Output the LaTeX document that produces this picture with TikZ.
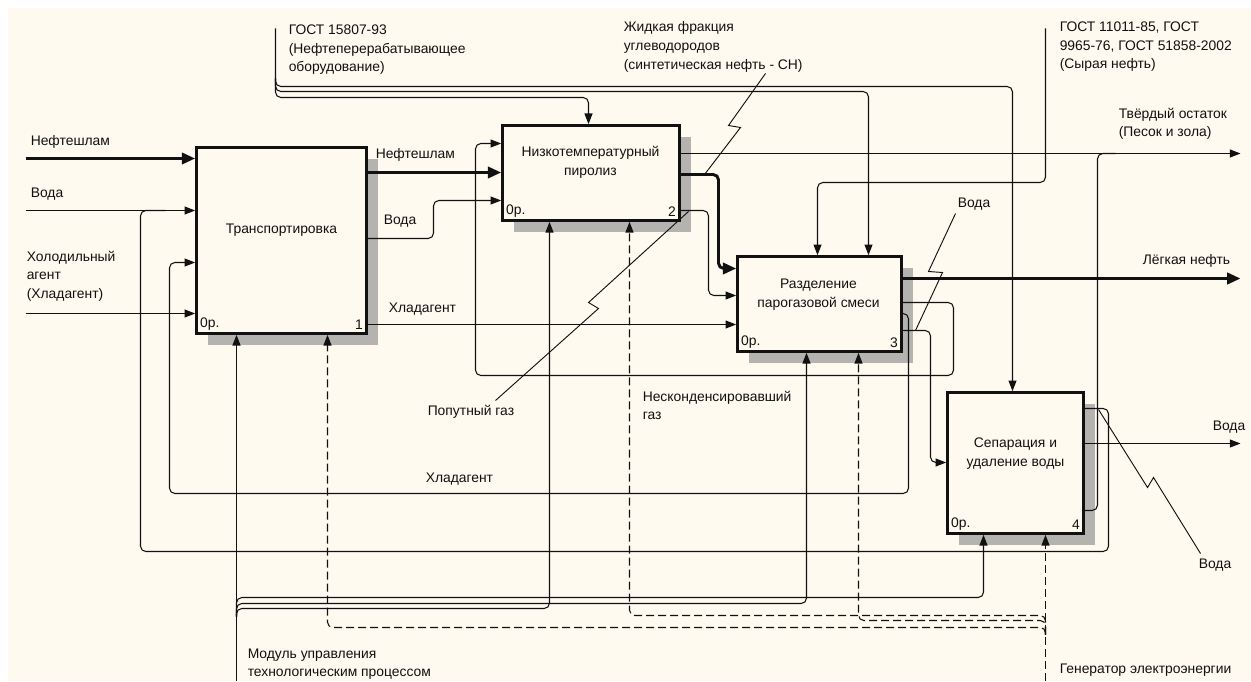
\documentclass[tikz,border=0pt]{standalone}
\usepackage{fontspec}
\setmainfont{Liberation Sans}
\usetikzlibrary{arrows.meta,shadows}
\definecolor{Paper}{HTML}{FFFAEF}
\definecolor{Ink}{HTML}{111111}
\definecolor{Hatch}{HTML}{B4B3AF}
\tikzset{
  funcbox/.style={draw=Ink,line width=2pt,fill=Paper,inner sep=0pt,general shadow={shadow xshift=8.5pt,shadow yshift=-8.5pt,fill=Hatch}},
  boxtext/.style={align=center,font=\fontsize{10.4}{14}\selectfont,text=Ink,inner sep=0pt},
  corner/.style={font=\fontsize{10.4}{12}\selectfont,text=Ink,inner sep=3.5pt},
  lbl/.style={anchor=north west,align=left,font=\fontsize{10.4}{14}\selectfont,text=Ink,inner sep=0pt},
  joinline/.style={draw=Ink,line width=0.8pt,rounded corners=4pt},
  flow/.style={joinline,-{Triangle[length=8pt,width=6pt]}},
  heavy/.style={-{Triangle[length=10pt,width=8.5pt]},draw=Ink,line width=2.2pt,rounded corners=4pt},
  power/.style={flow,dash pattern=on 6pt off 3pt},
  bolt/.style={draw=Ink,line width=0.7pt}
}

\begin{document}
\begin{tikzpicture}[x=0.75pt,y=-0.75pt]
  \useasboundingbox (0,0) rectangle (1251,681);
  \fill[white] (0,0) rectangle (1251,681);
  \fill[Paper] (8,8) rectangle (1251,681);

  \begin{scope}[shift={(0.5,0.5)}]
  % function boxes
  \node[funcbox,minimum width=127.5pt,minimum height=139.5pt] (b1) at (281,240) {};
  \node[funcbox,minimum width=132.75pt,minimum height=71.25pt] (b2) at (590.5,172.5) {};
  \node[funcbox,minimum width=123pt,minimum height=71.25pt] (b3) at (819,303.5) {};
  \node[funcbox,minimum width=102pt,minimum height=105.75pt] (b4) at (1015,462.5) {};

  \node[boxtext] (b1t) at (281,230) {Транспортировка};
  \node[boxtext] (b2t) at (590,162) {Низкотемпературный\\пиролиз};
  \node[boxtext] (b3t) at (818,294) {Разделение\\парогазовой смеси};
  \node[boxtext] (b4t) at (1015,453) {Сепарация и\\удаление воды};

  \node[corner,anchor=south west] (b1p) at (b1.south west) {0р.};
  \node[corner,anchor=south east] (b1n) at (b1.south east) {1};
  \node[corner,anchor=south west] (b2p) at (b2.south west) {0р.};
  \node[corner,anchor=south east] (b2n) at (b2.south east) {2};
  \node[corner,anchor=south west] (b3p) at (b3.south west) {0р.};
  \node[corner,anchor=south east] (b3n) at (b3.south east) {3};
  \node[corner,anchor=south west] (b4p) at (b4.south west) {0р.};
  \node[corner,anchor=south east] (b4n) at (b4.south east) {4};

  % free ends and splits
  \coordinate (inSlurry) at (25,158);
  \coordinate (inWater) at (25,210);
  \coordinate (inCool) at (25,313);
  \coordinate (gostA) at (275,28);
  \coordinate (gostSplit) at (275,78);
  \coordinate (gostB) at (1045,28);
  \coordinate (outSolid) at (1240,153);
  \coordinate (outOil) at (1240,278);
  \coordinate (outWater) at (1240,443);
  \coordinate (mechCtl) at (236,680);
  \coordinate (ctlSplit) at (236,616);
  \coordinate (mechGen) at (1045,680);
  \coordinate (genSplit) at (1045,634);

  % labels
  \node[lbl] (tGostA) at (288,24) {ГОСТ 15807-93\\(Нефтеперерабатывающее\\оборудование)};
  \node[lbl] (tLiquid) at (623,21) {Жидкая фракция\\углеводородов\\(синтетическая нефть - СН)};
  \node[lbl] (tGostB) at (1059,21) {ГОСТ 11011-85, ГОСТ\\9965-76, ГОСТ 51858-2002\\(Сырая нефть)};
  \node[lbl] (tSolid) at (1118,107) {Твёрдый остаток\\(Песок и зола)};
  \node[lbl] (tSlurryIn) at (30,135) {Нефтешлам};
  \node[lbl] (tWaterIn) at (30,187) {Вода};
  \node[lbl] (tCoolIn) at (26,250) {Холодильный\\агент\\(Хладагент)};
  \node[lbl] (tSlurry) at (375,148) {Нефтешлам};
  \node[lbl] (tWater) at (383,214) {Вода};
  \node[lbl] (tCool) at (388,302) {Хладагент};
  \node[lbl] (tCoolBack) at (425,472) {Хладагент};
  \node[lbl] (tGas) at (427,404) {Попутный газ};
  \node[lbl] (tNoncond) at (642,390) {Несконденсировавший\\газ};
  \node[lbl] (tWater3) at (957,197) {Вода};
  \node[lbl] (tOil) at (1142,254) {Лёгкая нефть};
  \node[lbl] (tWaterOut) at (1212,420) {Вода};
  \node[lbl] (tWater4) at (1198,558) {Вода};
  \node[lbl] (tCtl) at (247,648) {Модуль управления\\технологическим процессом};
  \node[lbl] (tGen) at (1059,663) {Генератор электроэнергии};

  % inputs
  \draw[heavy] (inSlurry) -- (b1.west |- inSlurry);
  \draw[flow] (inWater) -- (b1.west |- inWater);
  \draw[flow] (inCool) -- (b1.west |- inCool);

  % controls
  \draw[flow] (gostA) |- (1012,86) -- (b4.north -| 1012,0);
  \draw[flow] (gostSplit) |- (868,91) -- (b3.north -| 868,0);
  \draw[flow] (gostSplit) |- (588,97) -- (b2.north -| 588,0);
  \draw[flow] (gostB) |- (817,182) -- (b3.north -| 817,0);

  % mechanisms
  \draw[flow] (mechCtl) -- (b1.south -| mechCtl);
  \draw[flow] (ctlSplit) |- (549,608) -- (b2.south -| 549,0);
  \draw[flow] (ctlSplit) |- (806,603) -- (b3.south -| 806,0);
  \draw[flow] (ctlSplit) |- (983,597) -- (b4.south -| 983,0);
  \draw[power] (mechGen) -- (b4.south -| mechGen);
  \draw[power] (genSplit) |- (629,615) -- (b2.south -| 629,0);
  \draw[power] (genSplit) |- (858,620) -- (b3.south -| 858,0);
  \draw[power] (genSplit) |- (327,627) -- (b1.south -| 327,0);

  % box 1 outputs
  \draw[heavy] (b1.east |- 0,172) -- (b2.west |- 0,172);
  \draw[flow] (b1.east |- 0,238) -- (433,238) |- (b2.west |- 0,200);
  \draw[flow] (b1.east |- 0,324) -- (b3.west |- 0,324);

  % box 2 outputs
  \draw[flow] (b2.east |- 0,153) -- (outSolid);
  \draw[heavy] (b2.east |- 0,174) -| (718,268) -- (b3.west |- 0,268);
  \draw[flow] (b2.east |- 0,210) -| (708,295) -- (b3.west |- 0,295);

  % box 3 outputs
  \draw[heavy] (b3.east |- 0,278) -- (outOil);
  \draw[flow] (b3.east |- 0,302) -| (953,375) -| (475,143) -- (b2.west |- 0,143);
  \draw[flow] (b3.east |- 0,313) -| (908,493) -| (169,262) -- (b1.west |- 0,262);
  \draw[flow] (b3.east |- 0,330) -| (930,462) -- (b4.west |- 0,462);

  % box 4 outputs
  \draw[flow] (b4.east |- 0,443) -- (outWater);
  \draw[joinline] (b4.east |- 0,408) -| (1108,551) -| (140,210) -- (165,210);
  \draw[joinline] (b4.east |- 0,510) -| (1097,153) -- (1115,153);

  % squiggles
  \draw[bolt] (765,73) -- (728,125) -- (740,127) -- (704,174);
  \draw[bolt] (495,400) -- (598,308) -- (588,302) -- (688,211);
  \draw[bolt] (955,213) -- (928,271) -- (942,272) -- (915,330);
  \draw[bolt] (1200,553) -- (1153,477) -- (1147,487) -- (1098,409);
  \end{scope}
\end{tikzpicture}
\end{document}
